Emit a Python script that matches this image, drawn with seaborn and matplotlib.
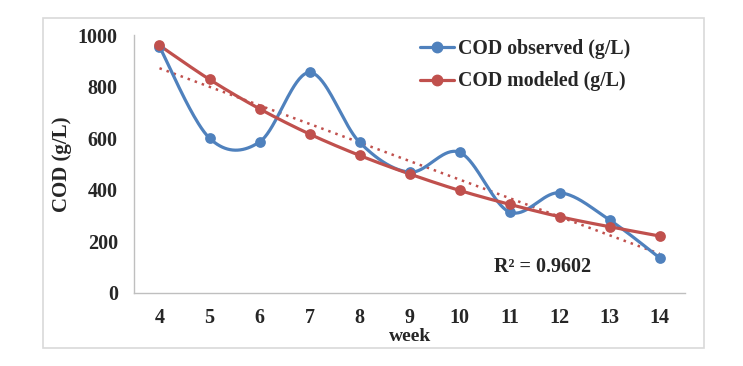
import numpy as np
import pandas as pd
import seaborn as sns
import matplotlib.pyplot as plt
from matplotlib.lines import Line2D
from matplotlib.patches import Rectangle

# values
weeks = [4, 5, 6, 7, 8, 9, 10, 11, 12, 13, 14]
cod_observed = [955, 600, 585, 855, 584, 468, 545, 313, 388, 282, 135]
cod_modeled = [960, 828, 714, 616, 533, 461, 397, 343, 295, 256, 220]
r2_text = "R² = 0.9602"

blue = "#4F81BD"
red = "#C0504D"


def excel_smooth(x, y, n=40):
    # Catmull-Rom style Bezier, like Excel's "smoothed line"
    x = np.asarray(x, float)
    y = np.asarray(y, float)
    px = np.r_[x[0], x, x[-1]]
    py = np.r_[y[0], y, y[-1]]
    xs, ys = [], []
    t = np.linspace(0, 1, n)
    for i in range(1, len(px) - 2):
        p0 = np.array([px[i], py[i]])
        p3 = np.array([px[i + 1], py[i + 1]])
        c1 = p0 + (p3 - np.array([px[i - 1], py[i - 1]])) / 6
        c2 = p3 - (np.array([px[i + 2], py[i + 2]]) - p0) / 6
        pts = ((1 - t) ** 3)[:, None] * p0 + (3 * (1 - t) ** 2 * t)[:, None] * c1 \
            + (3 * (1 - t) * t ** 2)[:, None] * c2 + (t ** 3)[:, None] * p3
        if i > 1:
            pts = pts[1:]
        xs.append(pts[:, 0])
        ys.append(pts[:, 1])
    return np.concatenate(xs), np.concatenate(ys)


sns.set_style("white")
plt.rcParams["font.family"] = ["Liberation Serif", "DejaVu Serif"]
plt.rcParams["font.weight"] = "bold"

fig = plt.figure(figsize=(7.43, 3.66), dpi=100)
ax = fig.add_axes([0.181, 0.2003, 0.7405, 0.7037])

fig.patches.append(Rectangle((0.058, 0.049), 0.889, 0.902, transform=fig.transFigure,
                             fill=False, edgecolor="#d9d9d9", lw=1.2))

# trendline of modeled values
coef = np.polyfit(weeks, cod_modeled, 1)
trend = pd.DataFrame({"week": weeks, "cod": np.polyval(coef, weeks)})
sns.lineplot(data=trend, x="week", y="cod", ax=ax, color=red, lw=1.8,
             linestyle=(0, (1, 2)), estimator=None)

for vals, col in [(cod_observed, blue), (cod_modeled, red)]:
    sx, sy = excel_smooth(weeks, vals)
    smooth = pd.DataFrame({"week": sx, "cod": sy})
    sns.lineplot(data=smooth, x="week", y="cod", ax=ax, color=col, lw=2.3,
                 sort=False, estimator=None)
    pts = pd.DataFrame({"week": weeks, "cod": vals})
    sns.scatterplot(data=pts, x="week", y="cod", ax=ax, color=col, s=60,
                    edgecolor=col, linewidth=0, zorder=5)

ax.set_xlim(3.5, 14.5)
ax.set_ylim(0, 1000)
ax.set_yticks(range(0, 1001, 200))
ax.set_xticks(np.arange(3.5, 15, 1))
ax.set_xticklabels([])
ax.set_xticks(weeks, minor=True)
ax.set_xticklabels([str(w) for w in weeks], minor=True)
ax.tick_params(axis="x", which="major", length=4, color="#bfbfbf", direction="out")
ax.tick_params(axis="x", which="minor", length=0, pad=11, labelsize=14.5)
ax.tick_params(axis="y", length=4, color="#bfbfbf", direction="out", pad=8, labelsize=14.5)
for lab in ax.get_xticklabels(minor=True) + ax.get_yticklabels():
    lab.set_fontweight("bold")

for s in ["top", "right"]:
    ax.spines[s].set_visible(False)
for s in ["left", "bottom"]:
    ax.spines[s].set_color("#bfbfbf")
    ax.spines[s].set_linewidth(1)

ax.set_xlabel("week", fontsize=14, fontweight="bold", labelpad=0)
ax.set_ylabel("COD (g/L)", fontsize=15, fontweight="bold", labelpad=4)

ax.text(11.65, 1000 * (292.7 - 266.7) / 257, r2_text, fontsize=14.5, fontweight="bold",
        ha="center", va="center")

handles = [Line2D([], [], color=blue, lw=2.3, marker="o", markersize=7.5),
           Line2D([], [], color=red, lw=2.3, marker="o", markersize=7.5)]
fig.legend(handles, ["COD observed (g/L)", "COD modeled (g/L)"], loc="upper left",
           bbox_to_anchor=(0.565, 0.893), frameon=False, borderpad=0, borderaxespad=0,
           handlelength=1.7, handletextpad=0.2, labelspacing=0.62,
           prop={"size": 14.3, "weight": "bold"})

fig.savefig("out.png", dpi=100)
